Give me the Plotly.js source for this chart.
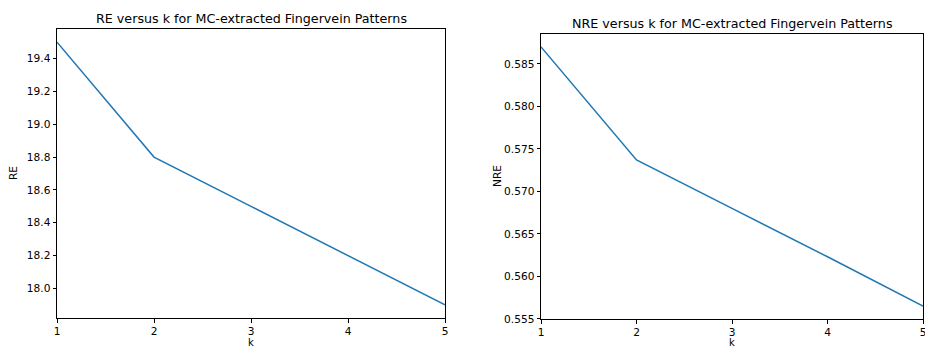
<!DOCTYPE html>
<html>
<head>
<meta charset="utf-8">
<script src="https://cdn.plot.ly/plotly-3.0.1.min.js"></script>
<style>html,body{margin:0;padding:0;background:#fff;}#chart{width:925px;height:347px;}</style>
</head>
<body>
<div id="chart"></div>
<script>
const kValues = [1, 2, 3, 4, 5];
const reValues = [19.5, 18.8, 18.5, 18.2, 17.9];
const nreValues = [0.587, 0.5737, 0.568, 0.5623, 0.5565];
const reTicks = [18.0, 18.2, 18.4, 18.6, 18.8, 19.0, 19.2, 19.4];
const nreTicks = [0.555, 0.560, 0.565, 0.570, 0.575, 0.580, 0.585];
const titleRE = 'RE versus k for MC-extracted Fingervein Patterns';
const titleNRE = 'NRE versus k for MC-extracted Fingervein Patterns';

const W = 925, H = 347;
const px = x => x / W;
const py = y => (H - y) / H;

function pad(vals) {
  const mn = Math.min(...vals), mx = Math.max(...vals);
  const m = (mx - mn) * 0.05;
  return [mn - m, mx + m];
}

const font = {family: 'DejaVu Sans, sans-serif', size: 10.6, color: '#000'};
const kfont = {family: 'DejaVu Sans, sans-serif', size: 10, color: '#000'};
const tfont = {family: 'DejaVu Sans, sans-serif', size: 12.7, color: '#000'};
const axBase = {
  showgrid: false, zeroline: false, showline: true, mirror: true,
  linecolor: '#000', linewidth: 1, ticks: 'outside', ticklen: 3.5,
  tickwidth: 1, tickcolor: '#000', tickfont: font, ticklabeloverflow: 'allow'
};

const traces = [
  {x: kValues, y: reValues, type: 'scatter', mode: 'lines', line: {color: '#1f77b4', width: 1.5}, xaxis: 'x', yaxis: 'y'},
  {x: kValues, y: nreValues, type: 'scatter', mode: 'lines', line: {color: '#1f77b4', width: 1.5}, xaxis: 'x2', yaxis: 'y2'}
];

const layout = {
  width: W, height: H,
  margin: {l: 0, r: 0, t: 0, b: 0},
  paper_bgcolor: '#fff', plot_bgcolor: '#fff',
  showlegend: false,
  font: font,
  xaxis: Object.assign({}, axBase, {domain: [px(57), px(445)], range: [1, 5], tickvals: kValues, ticktext: kValues.map(String), anchor: 'y'}),
  yaxis: Object.assign({}, axBase, {domain: [py(318), py(29)], range: pad(reValues), tickvals: reTicks, ticktext: reTicks.map(v => v.toFixed(1)), anchor: 'x'}),
  xaxis2: Object.assign({}, axBase, {domain: [px(541), px(923)], range: [1, 5], tickvals: kValues, ticktext: kValues.map(String), anchor: 'y2'}),
  yaxis2: Object.assign({}, axBase, {domain: [py(319), py(34)], range: pad(nreValues), tickvals: nreTicks, ticktext: nreTicks.map(v => v.toFixed(3)), anchor: 'x2'}),
  annotations: [
    {text: titleRE, xref: 'paper', yref: 'paper', x: px(251), y: py(18), xanchor: 'center', yanchor: 'middle', showarrow: false, font: tfont},
    {text: titleNRE, xref: 'paper', yref: 'paper', x: px(732), y: py(23), xanchor: 'center', yanchor: 'middle', showarrow: false, font: tfont},
    {text: 'k', xref: 'paper', yref: 'paper', x: px(251), y: py(342.5), xanchor: 'center', yanchor: 'middle', showarrow: false, font: kfont, borderpad: 0},
    {text: 'k', xref: 'paper', yref: 'paper', x: px(732), y: py(342.5), xanchor: 'center', yanchor: 'middle', showarrow: false, font: kfont, borderpad: 0},
    {text: 'RE', xref: 'paper', yref: 'paper', x: px(13), y: py(173), xanchor: 'center', yanchor: 'middle', textangle: -90, showarrow: false, font: font},
    {text: 'NRE', xref: 'paper', yref: 'paper', x: px(497), y: py(176), xanchor: 'center', yanchor: 'middle', textangle: -90, showarrow: false, font: font}
  ]
};

Plotly.newPlot('chart', traces, layout, {staticPlot: true, displayModeBar: false});
</script>
</body>
</html>
